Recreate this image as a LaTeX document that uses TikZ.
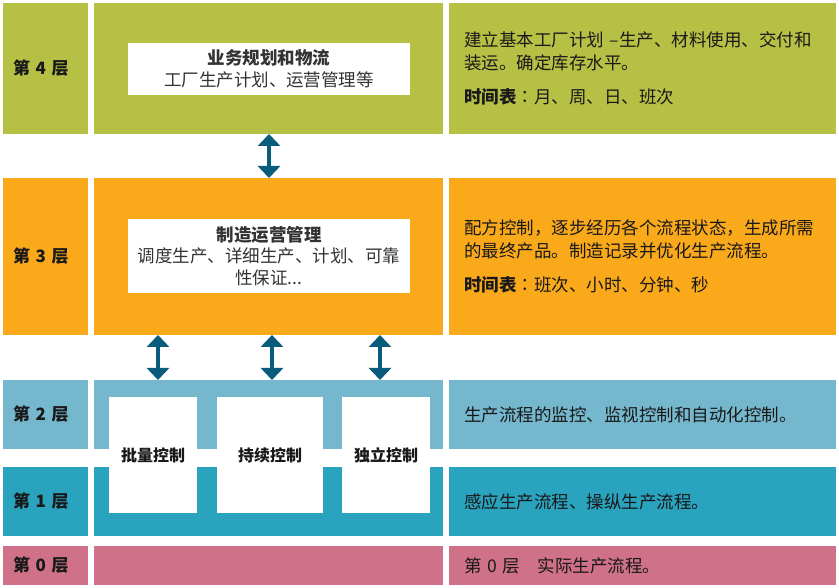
\documentclass[tikz,border=0pt]{standalone}
\usepackage{fontspec}
\setmainfont{Noto Sans CJK SC}
\newfontfamily\colonfont{Noto Sans CJK TC}
\usetikzlibrary{positioning,arrows.meta}

\definecolor{lvfour}{RGB}{182,192,69}
\definecolor{lvthree}{RGB}{250,169,27}
\definecolor{lvtwo}{RGB}{117,184,206}
\definecolor{lvone}{RGB}{42,163,190}
\definecolor{lvzero}{RGB}{206,113,137}
\definecolor{arrowblue}{RGB}{10,92,125}
\definecolor{inktext}{RGB}{25,25,25}

\newcommand{\schedule}{\textbf{时间表}{\colonfont ：}}

\tikzset{
  band/.style={anchor=north west, inner sep=0pt, outer sep=0pt},
  lvlabel/.style={band, minimum width=85pt, text width=65pt, inner xsep=10pt, align=left,
    font=\bfseries\fontsize{17}{22}\selectfont, text=inktext},
  midband/.style={band, minimum width=349pt},
  descband/.style={band, minimum width=387pt, text width=357pt, inner xsep=15pt, align=left,
    font=\fontsize{17.5}{23}\selectfont, text=inktext},
  whitebox/.style={band, fill=white, align=center, font=\fontsize{17.5}{21.5}\selectfont, text=black!80},
  ctrlbox/.style={band, fill=white, minimum height=116pt, font=\bfseries\fontsize{16}{20}\selectfont, text=inktext},
  updown/.style={{Triangle[width=22pt,length=12pt]}-{Triangle[width=22pt,length=12pt]}, line width=4pt, draw=arrowblue},
}

\begin{document}
\begin{tikzpicture}[x=1pt,y=-1pt]
    \useasboundingbox (0,0) rectangle (839,588);

    % Layer 4
    \node[lvlabel, fill=lvfour, minimum height=131pt] (lab4) at (3,3) {第 4 层};
    \node[midband, fill=lvfour, minimum height=131pt] (mid4) at (94,3) {};
    \node[descband, fill=lvfour, minimum height=131pt] (desc4) at (449,3)
        {建立基本工厂计划 –生产、材料使用、交付和\\装运。确定库存水平。\\[11pt]\schedule 月、周、日、班次};
    \node[whitebox, minimum width=282pt, minimum height=52pt] (plan) at (128,43)
        {\textbf{业务规划和物流}\\工厂生产计划、运营管理等};

    % Layer 3
    \node[lvlabel, fill=lvthree, minimum height=157pt] (lab3) at (3,178) {第 3 层};
    \node[midband, fill=lvthree, minimum height=157pt] (mid3) at (94,178) {};
    \node[descband, fill=lvthree, minimum height=157pt] (desc3) at (449,178)
        {配方控制，逐步经历各个流程状态，生成所需\\的最终产品。制造记录并优化生产流程。\\[11pt]\schedule 班次、小时、分钟、秒};
    \node[whitebox, minimum width=282pt, minimum height=74pt] (mom) at (128,219)
        {\textbf{制造运营管理}\\调度生产、详细生产、计划、可靠\\性保证...};

    % Layer 2
    \node[lvlabel, fill=lvtwo, minimum height=69pt] (lab2) at (3,380) {第 2 层};
    \node[midband, fill=lvtwo, minimum height=69pt] (mid2) at (94,380) {};
    \node[descband, fill=lvtwo, minimum height=69pt] (desc2) at (449,380)
        {生产流程的监控、监视控制和自动化控制。};

    % Layer 1
    \node[lvlabel, fill=lvone, minimum height=69pt] (lab1) at (3,467) {第 1 层};
    \node[midband, fill=lvone, minimum height=69pt] (mid1) at (94,467) {};
    \node[descband, fill=lvone, minimum height=69pt] (desc1) at (449,467)
        {感应生产流程、操纵生产流程。};

    % Layer 0
    \node[lvlabel, fill=lvzero, minimum height=39pt] (lab0) at (3,546) {第 0 层};
    \node[midband, fill=lvzero, minimum height=39pt] (mid0) at (94,546) {};
    \node[descband, fill=lvzero, minimum height=39pt] (desc0) at (449,546)
        {第 0 层\hspace{1em}实际生产流程。};

    % control blocks across layers 2 and 1
    \node[ctrlbox, minimum width=88pt] (batch) at (109,397) {批量控制};
    \node[ctrlbox, minimum width=106pt] (cont) at (217,397) {持续控制};
    \node[ctrlbox, minimum width=88pt] (disc) at (342,397) {独立控制};

    % arrows between layers
    \coordinate (top) at (269,0);
    \coordinate (ab) at (158,0);
    \coordinate (ac) at (272,0);
    \coordinate (ad) at (380,0);
    \draw[updown] (mid4.south -| top) -- (mid3.north -| top);
    \foreach \a in {ab,ac,ad}
        \draw[updown] (mid3.south -| \a) -- (mid2.north -| \a);
\end{tikzpicture}
\end{document}
